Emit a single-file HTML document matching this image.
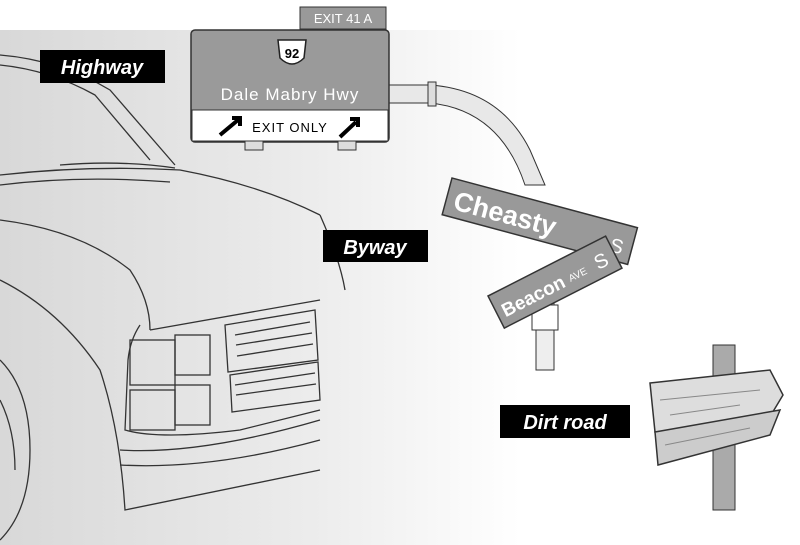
<!DOCTYPE html>
<html><head><meta charset="utf-8"><style>
html,body{margin:0;padding:0;background:#fff;}
svg{display:block}
text{font-family:"Liberation Sans",sans-serif}
</style></head><body>
<svg width="800" height="545" viewBox="0 0 800 545" xmlns="http://www.w3.org/2000/svg">
<defs>
<linearGradient id="bg" x1="0" y1="0" x2="1" y2="0">
<stop offset="0" stop-color="#d8d8d8"/><stop offset="0.6" stop-color="#ececec"/><stop offset="1" stop-color="#ffffff"/>
</linearGradient>
</defs>
<rect x="0" y="30" width="520" height="515" fill="url(#bg)"/>
<g fill="none" stroke="#333" stroke-width="1.3">
<path d="M0,55 Q60,60 110,90 L175,165"/>
<path d="M0,65 Q50,70 95,95 L150,160"/>
<path d="M0,175 Q90,165 180,170 Q260,185 320,215"/>
<path d="M0,185 Q80,175 170,182"/>
<path d="M0,220 Q80,230 130,270 Q150,300 150,330"/>
<path d="M150,330 L320,300"/>
<path d="M140,325 Q130,340 128,360 L125,430 Q160,440 240,430 L320,410"/>
<path d="M0,280 Q60,310 100,370 Q120,430 125,510 L320,470"/>
<path d="M320,215 Q340,260 345,290"/>
<path d="M60,165 Q120,160 175,168"/>
<path d="M0,360 Q30,390 30,450 Q30,510 0,540"/>
<path d="M0,400 Q15,430 15,470"/>
<rect x="130" y="340" width="45" height="45"/>
<rect x="175" y="335" width="35" height="40"/>
<rect x="130" y="390" width="45" height="40"/>
<rect x="175" y="385" width="35" height="40"/>
<path d="M225,325 L315,310 L318,360 L228,372 Z"/>
<path d="M230,375 L318,362 L320,400 L232,412 Z"/>
<path d="M235,335 L310,322 M236,345 L312,333 M237,356 L313,344 M235,385 L315,373 M236,395 L316,384"/>
<path d="M120,450 Q200,455 320,420"/>
<path d="M120,465 Q210,470 320,440"/>
</g>
<rect x="300" y="7" width="86" height="22" fill="#999" stroke="#333"/>
<text x="343" y="23" text-anchor="middle" font-size="13" fill="#fff">EXIT 41 A</text>
<path d="M388,85 L430,85 Q500,90 530,150 L545,185 L525,185 Q500,110 430,103 L388,103 Z" fill="#e8e8e8" stroke="#333"/>
<rect x="428" y="82" width="8" height="24" fill="#ddd" stroke="#333"/>
<rect x="191" y="30" width="198" height="112" rx="4" fill="#9a9a9a" stroke="#333" stroke-width="1.5"/>
<rect x="192" y="110" width="196" height="31" fill="#fff" stroke="#333"/>
<path d="M278,40 L306,40 L304,58 Q292,70 280,58 Z" fill="#fff" stroke="#222" stroke-width="1.5"/>
<text x="292" y="58" text-anchor="middle" font-size="13" font-weight="bold">92</text>
<text x="290" y="100" text-anchor="middle" font-size="17" fill="#fff" letter-spacing="1">Dale Mabry Hwy</text>
<text x="290" y="132" text-anchor="middle" font-size="13" letter-spacing="1">EXIT ONLY</text>
<path d="M220,135 L238,120 M232,118 L240,118 L240,126" stroke="#000" stroke-width="4" fill="none"/>
<path d="M340,137 L356,122 M350,119 L358,119 L358,127" stroke="#000" stroke-width="4" fill="none"/>
<rect x="245" y="141" width="18" height="9" fill="#ddd" stroke="#333"/>
<rect x="338" y="141" width="18" height="9" fill="#ddd" stroke="#333"/>
<rect x="40" y="50" width="125" height="33" fill="#000"/>
<text x="102" y="74" text-anchor="middle" font-size="20" font-weight="bold" fill="#fff" font-style="italic">Highway</text>
<rect x="323" y="230" width="105" height="32" fill="#000"/>
<text x="375" y="254" text-anchor="middle" font-size="20" font-weight="bold" fill="#fff" font-style="italic">Byway</text>
<rect x="500" y="405" width="130" height="33" fill="#000"/>
<text x="565" y="429" text-anchor="middle" font-size="20" font-weight="bold" fill="#fff" font-style="italic">Dirt road</text>
<rect x="536" y="300" width="18" height="70" fill="#eee" stroke="#333"/>
<rect x="532" y="305" width="26" height="25" fill="#fff" stroke="#333"/>
<g transform="translate(452,178) rotate(15)">
<rect x="0" y="0" width="192" height="38" fill="#999" stroke="#333" stroke-width="1.5"/>
<text x="8" y="30" font-size="27" fill="#fff" font-weight="bold">Cheasty</text>
<text x="170" y="30" font-size="20" fill="#fff">S</text>
</g>
<g transform="translate(488,296) rotate(-27)">
<rect x="0" y="0" width="132" height="36" fill="#999" stroke="#333" stroke-width="1.5"/>
<text x="6" y="27" font-size="19" fill="#fff" font-weight="bold">Beacon</text>
<text x="80" y="25" font-size="10" fill="#fff">AVE</text>
<text x="110" y="27" font-size="20" fill="#fff">S</text>
</g>
<rect x="713" y="345" width="22" height="165" fill="#aaa" stroke="#333"/>
<path d="M650,383 L770,370 L783,395 L768,420 L655,432 Z" fill="#ddd" stroke="#333" stroke-width="1.5"/>
<path d="M655,432 L780,410 L770,435 L658,465 Z" fill="#ccc" stroke="#333" stroke-width="1.5"/>
<path d="M660,400 L760,390 M665,445 L750,428 M670,415 L740,405" stroke="#888"/>
</svg>
</body></html>
